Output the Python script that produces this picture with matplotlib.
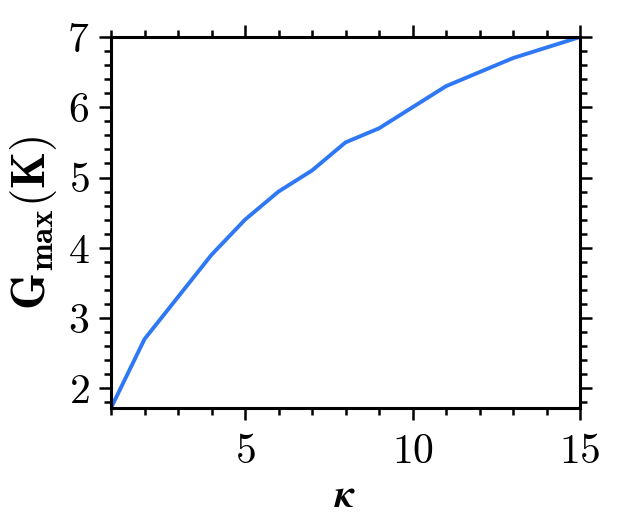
import numpy as np
import matplotlib
matplotlib.use('Agg')
import matplotlib.pyplot as plt
from matplotlib.ticker import MultipleLocator

kappa = [1, 2, 3, 4, 5, 6, 7, 8, 9, 10, 11, 12, 13, 14, 15]
g_max = [1.72, 2.7, 3.3, 3.9, 4.4, 4.8, 5.1, 5.5, 5.7, 6.0, 6.3, 6.5, 6.7, 6.85, 7.0]

plt.rcParams['font.family'] = 'cmr10'
plt.rcParams['mathtext.fontset'] = 'cm'
plt.rcParams['axes.formatter.use_mathtext'] = True

fig = plt.figure(figsize=(6.38, 5.2), dpi=100)
ax = fig.add_axes([111 / 638, 1 - 408 / 520, (580 - 111) / 638, (408 - 37) / 520])

ax.plot(kappa, g_max, color='#2f78f5', lw=2.8)

ax.set_xlim(1, 15)
ax.set_ylim(1.72, 7)
ax.xaxis.set_major_locator(MultipleLocator(5))
ax.xaxis.set_minor_locator(MultipleLocator(1))
ax.yaxis.set_major_locator(MultipleLocator(1))
ax.yaxis.set_minor_locator(MultipleLocator(0.2))

for s in ax.spines.values():
    s.set_linewidth(2.2)
ax.tick_params(which='both', direction='out', top=True, right=True, width=1.8, labelsize=30)
ax.tick_params(which='major', length=8.5, pad=7)
ax.tick_params(axis='x', which='major', pad=10)
ax.tick_params(which='minor', length=5)

ax.set_xlabel(r'$\boldsymbol{\kappa}$', fontsize=28, labelpad=6)
ax.set_ylabel(r'$\mathbf{G_{max}(K)}$', fontsize=34, labelpad=6)

fig.savefig('out.png', dpi=100)
